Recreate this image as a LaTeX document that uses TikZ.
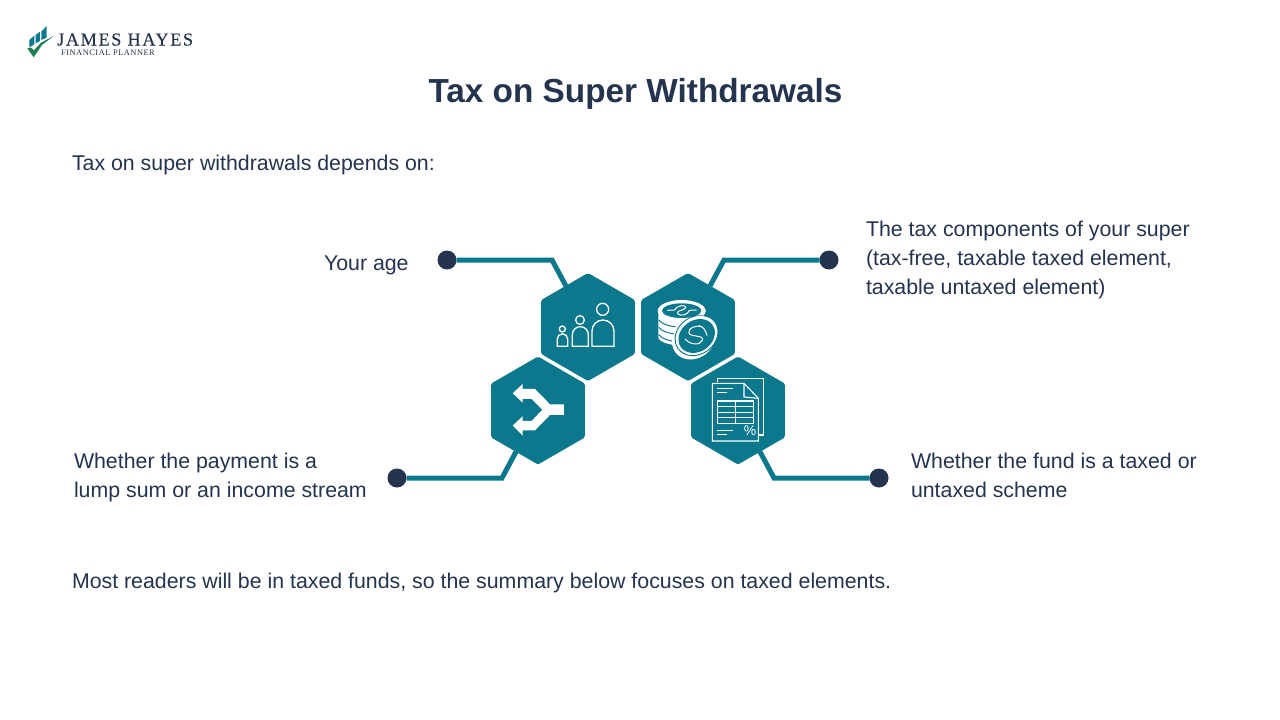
\documentclass[tikz,border=0pt]{standalone}
\usepackage{fontspec}
\setmainfont{Liberation Sans}
\newfontfamily\logofont[LetterSpace=9,FakeBold=0.35]{Liberation Serif}
\newfontfamily\logosub[LetterSpace=6]{Liberation Serif}
\usetikzlibrary{shapes.geometric}
\definecolor{teal1}{HTML}{0B788E}
\definecolor{navy1}{HTML}{24344F}
\definecolor{check1}{HTML}{1F7F4F}
\tikzset{
  x=1pt,y=-1pt,
  hexa/.style={regular polygon,regular polygon sides=6,shape border rotate=30,minimum size=108pt,inner sep=0pt,outer sep=0pt,fill=teal1,rounded corners=1.5pt},
  enddot/.style={circle,fill=navy1,minimum size=19pt,inner sep=0pt,outer sep=0pt},
  conn/.style={draw=teal1,line width=5pt,line join=miter},
  body/.style={inner sep=0pt,outer sep=0pt,text=navy1,font=\fontsize{21.33}{29}\selectfont,align=left},
  icon/.style={draw=white,line width=1.3pt,fill=none},
  iconthin/.style={draw=white,line width=1pt,fill=none},
  zoomed/.style={x=.3333pt,y=-.3333pt}
}
\begin{document}
\begin{tikzpicture}
\useasboundingbox (0,0) rectangle (1280,720);
\fill[white] (0,0) rectangle (1280,720);
% logo
\begin{scope}[shift={(20,15)},zoomed]
\fill[teal1] (28,75) -- (43,62) -- (43,88) -- (28,97) -- cycle;
\fill[teal1] (47,60) -- (60,50) -- (60,78) -- (47,85) -- cycle;
\fill[teal1] (64,50) -- (80,33) -- (80,68) -- (64,75) -- cycle;
\fill[check1] (22,100) -- (33,98) -- (42,106) -- (62,84) -- (102,62) -- (66,90) -- (41,127) -- cycle;
\end{scope}
\node[inner sep=0pt,anchor=base west,text=navy1,font=\logofont\fontsize{18.2}{20}\selectfont] (brand) at (57,45.5) {JAMES HAYES};
\node[inner sep=0pt,anchor=base west,text=navy1,font=\logosub\fontsize{8.4}{9}\selectfont] (brandsub) at (61,55) {FINANCIAL PLANNER};
% title and texts
\node[inner sep=0pt,anchor=base,text=navy1,font=\fontsize{33.33}{36}\selectfont\bfseries] (title) at (635.5,102) {Tax on Super Withdrawals};
\node[body,anchor=base west] (intro) at (72,170) {Tax on super withdrawals depends on:};
\node[body,anchor=base west] (outro) at (72,588) {Most readers will be in taxed funds, so the summary below focuses on taxed elements.};
\node[body,anchor=base west] (age) at (324,270) {Your age};
\node[body,anchor=west] (comp) at (866,260) {The tax components of your super\\(tax-free, taxable taxed element,\\taxable untaxed element)};
\node[body,anchor=west] (lump) at (74,477) {Whether the payment is a\\lump sum or an income stream};
\node[body,anchor=west] (fund) at (911,475) {Whether the fund is a taxed or\\untaxed scheme};
% hexagons
\node[hexa] (ha) at (588,327) {};
\node[hexa] (hb) at (688,327) {};
\node[hexa] (hc) at (538,410.5) {};
\node[hexa] (hd) at (738,410.5) {};
% connectors
\node[enddot] (da) at (447,260) {};
\node[enddot] (db) at (829,260) {};
\node[enddot] (dc) at (397,478) {};
\node[enddot] (dd) at (879,478) {};
\coordinate (ea) at (552,260);
\coordinate (eb) at (724,260);
\coordinate (ec) at (502,478);
\coordinate (ed) at (774,478);
\draw[conn] (da) -- (ea) -- (ha);
\draw[conn] (db) -- (eb) -- (hb);
\draw[conn] (dc) -- (ec) -- (hc);
\draw[conn] (dd) -- (ed) -- (hd);
% people icon
\begin{scope}[shift={(480,265)},zoomed]
\draw[icon] (368,133) circle (18);
\draw[icon] (336,244) -- (336,198) arc (180:360:33) -- (402,244) -- cycle;
\draw[icon] (300,165) circle (13);
\draw[icon] (277,244) -- (277,209) arc (180:360:24) -- (325,244) -- cycle;
\draw[icon] (247,192) circle (9);
\draw[icon] (232,244) -- (232,222) arc (180:360:15.5) -- (263,244) -- cycle;
% merge arrows
\fill[white] (98,385) -- (128,357) -- (128,372) -- (165,372) -- (210,418) -- (252,418) -- (252,450) -- (210,450) -- (165,496) -- (128,496) -- (128,512) -- (98,482) -- (128,454) -- (128,468) -- (155,468) -- (187,434) -- (155,402) -- (128,402) -- (128,413) -- cycle;
\end{scope}
% coins
\begin{scope}[shift={(635,265)},zoomed]
\fill[white] (70,137) -- (70,218) .. controls (75,235) and (120,245) .. (160,240) -- (212,137) -- cycle;
\foreach \yy in {165,187,209}
  \draw[teal1,line width=1pt] (71,\yy) .. controls (85,\yy+15) and (105,\yy+19) .. (122,\yy+20);
\fill[white] (140,138) ellipse [x radius=72,y radius=33];
\fill[teal1] (140,137) ellipse [x radius=59,y radius=22];
\draw[iconthin] (97,136) -- (118,135) .. controls (125,120) and (155,118) .. (152,128) .. controls (148,138) and (122,135) .. (128,146) .. controls (135,155) and (160,150) .. (163,136) -- (185,135);
\fill[white,rotate around={35:(176,222)}] (176,222) ellipse [x radius=68,y radius=58];
\draw[teal1,line width=1pt,rotate around={35:(184,212)}] (184,212) ellipse [x radius=67,y radius=56];
\fill[white,rotate around={35:(185,211)}] (185,211) ellipse [x radius=66,y radius=54];
\fill[teal1,rotate around={35:(185,213)}] (185,213) ellipse [x radius=58,y radius=47];
\draw[iconthin] (200,186) .. controls (188,178) and (155,190) .. (162,205) .. controls (170,218) and (207,208) .. (202,226) .. controls (196,242) and (165,240) .. (150,222);
\draw[iconthin] (192,182) .. controls (205,185) and (212,195) .. (216,212);
\end{scope}
% document
\begin{scope}[shift={(635,265)},zoomed]
\draw[icon,line width=1.1pt] (248,352) -- (248,340) -- (385,340) -- (385,510) -- (372,510);
\draw[icon,line width=1.1pt] (232,380) -- (232,355) -- (327,355) -- (370,400) -- (370,528) -- (232,528) -- cycle;
\draw[icon,line width=1.1pt] (327,355) -- (327,396) -- (370,400);
\draw[iconthin] (247,370) -- (295,370) (247,383) -- (275,383) (247,497) -- (295,497) (247,510) -- (275,510);
\draw[icon,line width=1.1pt] (247,408) rectangle (355,475);
\draw[icon,line width=1.1pt] (247,425) -- (355,425) (247,442) -- (355,442) (247,458) -- (355,458) (301,408) -- (301,475);
\node[inner sep=0pt,text=white,font=\fontsize{14}{15}\selectfont] (pct) at (345,498) {\%};
\end{scope}
\end{tikzpicture}
\end{document}
